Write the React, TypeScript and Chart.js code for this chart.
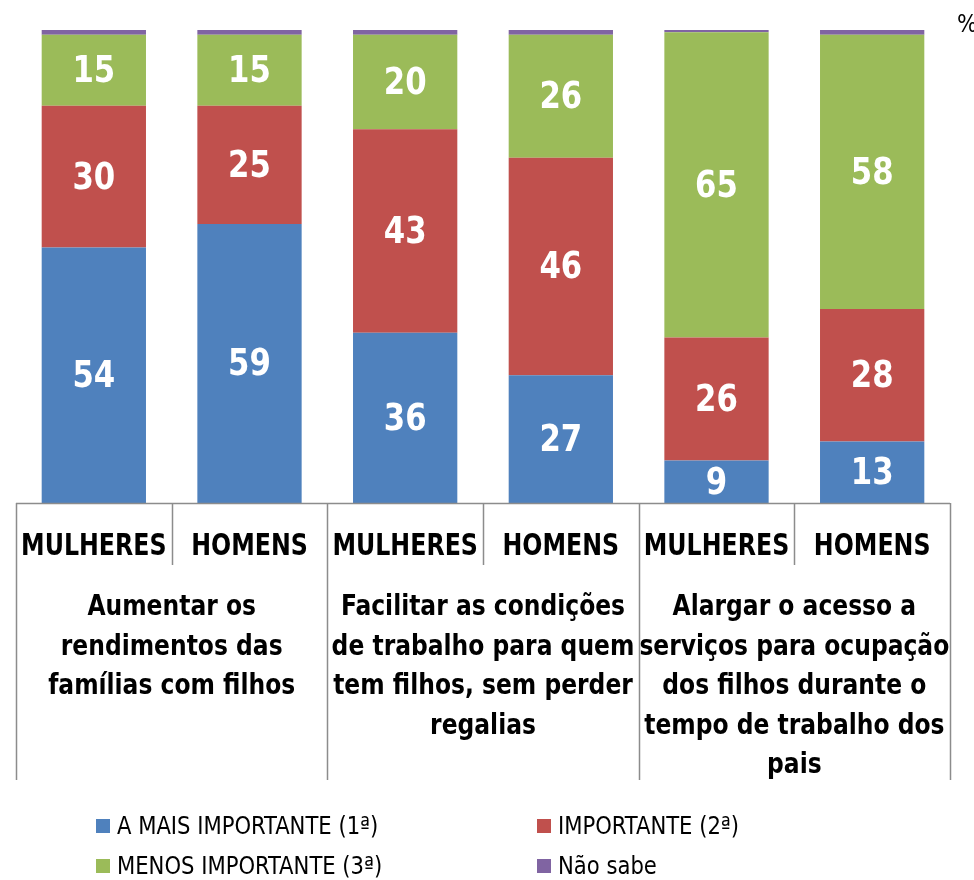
import React, { useEffect, useRef } from "react";
import { Chart, registerables } from "chart.js";

Chart.register(...registerables);

const sexLabels = ["MULHERES", "HOMENS", "MULHERES", "HOMENS", "MULHERES", "HOMENS"];
const groupLabels = [
  ["Aumentar os", "rendimentos das", "famílias com filhos"],
  ["Facilitar as condições", "de trabalho para quem", "tem filhos, sem perder", "regalias"],
  ["Alargar o acesso a", "serviços para ocupação", "dos filhos durante o", "tempo de trabalho dos", "pais"],
];
const seriesNames = ["A MAIS IMPORTANTE (1ª)", "IMPORTANTE (2ª)", "MENOS IMPORTANTE (3ª)", "Não sabe"];
const maisImportante = [54, 59, 36, 27, 9, 13];
const importante = [30, 25, 43, 46, 26, 28];
const menosImportante = [15, 15, 20, 26, 64.5, 58];
const naoSabe = [1, 1, 1, 1, 0.7, 1];
const seriesColors = ["#4F81BD", "#C0504D", "#9BBB59", "#8064A2"];

const FONT = '"Liberation Sans Narrow", "DejaVu Sans Condensed", "Arial Narrow", sans-serif';

function drawText(ctx: CanvasRenderingContext2D, text: string, x: number, y: number, sx: number, align: CanvasTextAlign) {
  ctx.save();
  ctx.translate(x, y);
  ctx.scale(sx, 1);
  ctx.textAlign = align;
  ctx.fillText(text, 0, 0);
  ctx.restore();
}

const overlayPlugin = {
  id: "overlay",
  afterDatasetsDraw(chart: any) {
    const ctx = chart.ctx;
    ctx.save();
    ctx.fillStyle = "#FFFFFF";
    ctx.font = `bold 38px ${FONT}`;
    ctx.textBaseline = "middle";
    chart.data.datasets.forEach((ds: any, di: number) => {
      if (di > 2) return;
      const meta = chart.getDatasetMeta(di);
      meta.data.forEach((el: any, i: number) => {
        const v = ds.data[i];
        const cy = (el.y + el.base) / 2 + 2;
        drawText(ctx, String(Math.round(v)), el.x, cy, 0.9, "center");
      });
    });
    ctx.restore();
  },
  afterDraw(chart: any) {
    const ctx = chart.ctx;
    const area = chart.chartArea;
    const xs = chart.scales.x;
    const bottom = area.bottom;
    const n = sexLabels.length;
    const step = (area.right - area.left) / n;
    ctx.save();
    ctx.strokeStyle = "#8C8C8C";
    ctx.lineWidth = 1.5;
    ctx.beginPath();
    ctx.moveTo(area.left, bottom + 0.5);
    ctx.lineTo(area.right, bottom + 0.5);
    for (let i = 0; i <= n; i++) {
      const x = Math.round(area.left + i * step) + 0.5;
      ctx.moveTo(x, bottom);
      ctx.lineTo(x, i % 2 === 0 ? bottom + 277 : bottom + 62);
    }
    ctx.stroke();
    ctx.fillStyle = "#000000";
    ctx.textBaseline = "middle";
    ctx.font = `bold 31px ${FONT}`;
    sexLabels.forEach((s, i) => {
      drawText(ctx, s, xs.getPixelForValue(i), bottom + 44, 0.85, "center");
    });
    ctx.font = `bold 28px ${FONT}`;
    groupLabels.forEach((lines, g) => {
      const cx = (xs.getPixelForValue(2 * g) + xs.getPixelForValue(2 * g + 1)) / 2;
      lines.forEach((ln, k) => {
        drawText(ctx, ln, cx, bottom + 105 + k * 39.5, 0.93, "center");
      });
    });
    ctx.font = `25px ${FONT}`;
    const legendPos = [
      [96, 826],
      [537, 826],
      [96, 866],
      [537, 866],
    ];
    chart.data.datasets.forEach((ds: any, di: number) => {
      const [lx, ly] = legendPos[di];
      ctx.fillStyle = ds.backgroundColor;
      ctx.fillRect(lx, ly - 7, 14, 14);
      ctx.fillStyle = "#000000";
      drawText(ctx, ds.label, lx + 21, ly + 1, 0.94, "left");
    });
    ctx.font = `24px ${FONT}`;
    drawText(ctx, "%", 957, 26, 1, "left");
    ctx.restore();
  },
};

export default function App() {
  const ref = useRef<HTMLCanvasElement>(null);
  useEffect(() => {
    if (!ref.current) return;
    const seriesData = [maisImportante, importante, menosImportante, naoSabe];
    const chart = new Chart(ref.current, {
      type: "bar",
      data: {
        labels: sexLabels,
        datasets: seriesData.map((d, i) => ({
          label: seriesNames[i],
          data: d,
          backgroundColor: seriesColors[i],
          borderWidth: 0,
          barPercentage: 0.67,
          categoryPercentage: 1,
        })),
      },
      options: {
        animation: false,
        responsive: false,
        maintainAspectRatio: false,
        layout: { padding: { left: 16, right: 24, top: 30, bottom: 377 } },
        plugins: {
          legend: { display: false },
          tooltip: { enabled: false },
          title: { display: false },
        },
        scales: {
          x: { stacked: true, display: false, grid: { display: false } },
          y: { stacked: true, display: false, min: 0, max: 100 },
        },
      },
      plugins: [overlayPlugin],
    });
    return () => chart.destroy();
  }, []);
  return (
    <div style={{ position: "fixed", left: 0, top: 0, width: 974, height: 880, background: "#fff" }}>
      <canvas ref={ref} width={974} height={880} style={{ width: 974, height: 880 }} />
    </div>
  );
}
